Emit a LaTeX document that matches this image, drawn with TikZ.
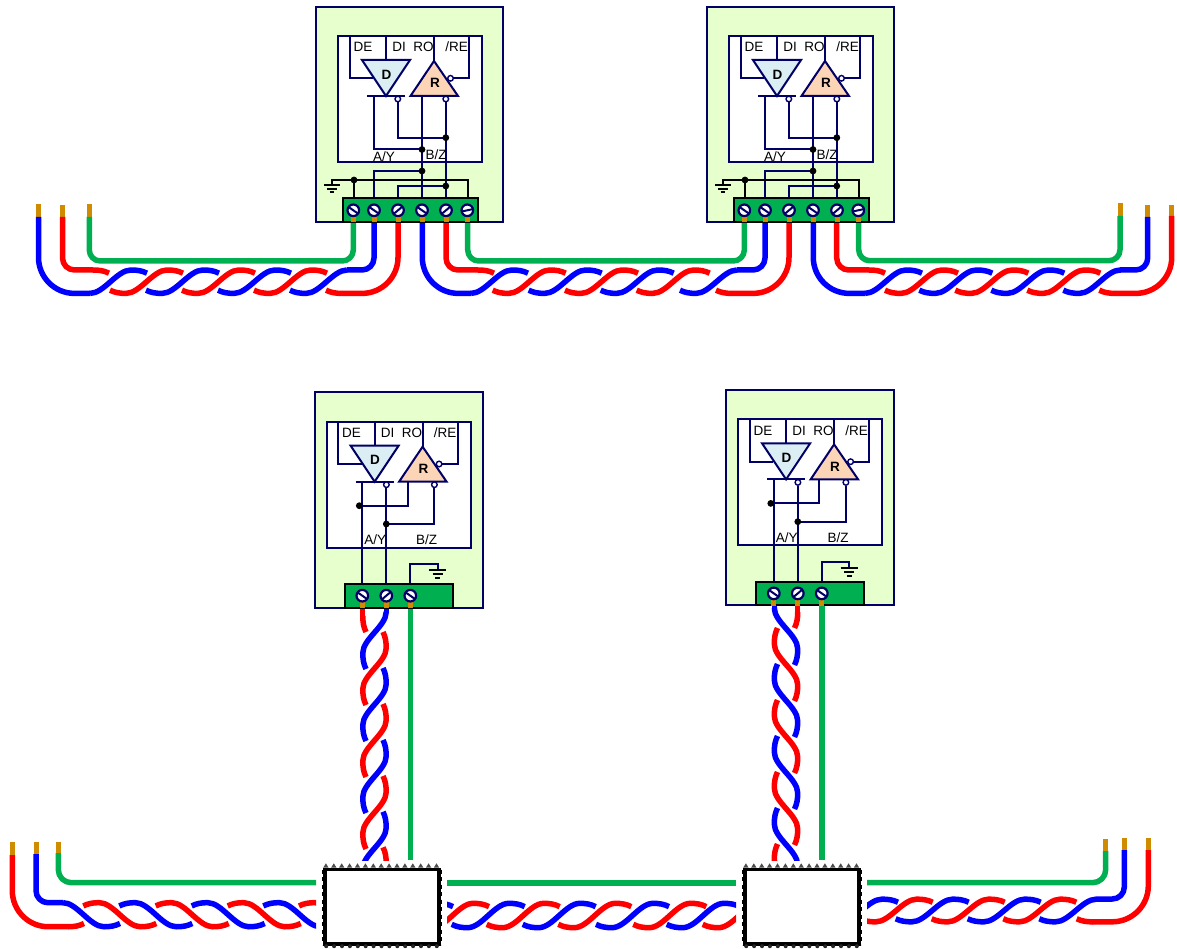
\documentclass[tikz,border=0pt]{standalone}
\usepackage{fontspec}
\setmainfont{Liberation Sans}
\definecolor{navyl}{HTML}{000066}
\definecolor{boardg}{HTML}{E6FFCC}
\definecolor{termg}{HTML}{00B050}
\definecolor{goldw}{HTML}{D08C00}
\definecolor{drvf}{HTML}{DAEEF3}
\definecolor{rcvf}{HTML}{FBD5B5}
\definecolor{wred}{HTML}{FF0000}
\definecolor{wblue}{HTML}{0000FF}
\tikzset{
  wire/.style={line width=5.5pt,line cap=butt,line join=round},
  roundw/.style={wire,rounded corners=#1},
  goldtip/.style={line width=5pt,draw=goldw},
  nav/.style={draw=navyl,line width=2pt},
  blk/.style={draw=black,line width=2pt},
  lbl/.style={inner sep=0pt,font=\fontsize{13.5}{14}\selectfont,text=black},
  lblb/.style={inner sep=0pt,font=\fontsize{13.5}{14}\selectfont\bfseries,text=black},
  jdot/.style={fill=black},
  stampbox/.style={draw=black,fill=white,line width=3.6pt,inner sep=0pt,outer sep=0pt,minimum width=114pt,minimum height=74.5pt},
  rowup/.style={shift={(0,#1)},x={(1pt,0pt)},y={(0pt,-1pt)}},
  rowdn/.style={shift={(0,#1)},x={(1pt,0pt)},y={(0pt,1.03pt)}},
  colr/.style={shift={(#1,0)},x={(0pt,-1pt)},y={(1pt,0pt)}},
  coll/.style={shift={(#1,0)},x={(0pt,-1pt)},y={(-1pt,0pt)}},
}
% twist pieces: full, tail only, head only, no head, no tail
\newcommand{\twF}[2]{\draw[wire,#1,shift={(#2,0)}] (0,8.5) .. controls (5,11) and (10,11.7) .. (16,11.7) .. controls (30,11.7) and (43,-11.7) .. (57,-11.7) .. controls (63,-11.7) and (68,-11) .. (73,-8.5);}
\newcommand{\twT}[2]{\draw[wire,#1,shift={(#2,0)}] (57,-11.7) .. controls (63,-11.7) and (68,-11) .. (73,-8.5);}
\newcommand{\twH}[2]{\draw[wire,#1,shift={(#2,0)}] (0,8.5) .. controls (5,11) and (10,11.7) .. (16,11.7);}
\newcommand{\twN}[2]{\draw[wire,#1,shift={(#2,0)}] (16,11.7) .. controls (30,11.7) and (43,-11.7) .. (57,-11.7) .. controls (63,-11.7) and (68,-11) .. (73,-8.5);}
\newcommand{\twS}[2]{\draw[wire,#1,shift={(#2,0)}] (0,8.5) .. controls (5,11) and (10,11.7) .. (16,11.7) .. controls (30,11.7) and (43,-11.7) .. (57,-11.7);}
% screw: x, y, angle
\newcommand{\screw}[3]{%
  \fill[goldw] (#1-2.5,#2+6) rectangle (#1+2.5,#2+12.2);
  \draw[draw=navyl,line width=2.2pt,fill=white] (#1,#2) circle[radius=5.8pt];
  \draw[draw=navyl,line width=2pt,shift={(#1,#2)},rotate=#3] (-5,0) -- (5,0);
}
% transceiver, in the coordinates of the first top board
\newcommand{\logicbox}{%
  \draw[nav,fill=white] (338,36) rectangle (482,162);
  \draw[nav] (349.5,36) -- (349.5,78.3) -- (373,78.3);
  \draw[nav] (386,36) -- (386,60);
  \draw[nav] (434,36) -- (434,61);
  \draw[nav] (469.3,36) -- (469.3,78.3) -- (453,78.3);
  \draw[nav] (367,96) -- (405,96);
  \draw[nav,fill=drvf] (362,60) -- (410,60) -- (386,96) -- cycle;
  \draw[nav,fill=rcvf] (434,61) -- (458,96) -- (410.5,96) -- cycle;
  \draw[draw=navyl,line width=1.4pt,fill=white] (450.5,78.3) circle[radius=2.8pt];
  \draw[draw=navyl,line width=1.4pt,fill=white] (397.8,99) circle[radius=2.8pt];
  \draw[draw=navyl,line width=1.4pt,fill=white] (445.8,99) circle[radius=2.8pt];
  \node[lbl] (-de) at (363,47) {DE};
  \node[lbl] (-di) at (399,47) {DI};
  \node[lbl] (-ro) at (423.5,47) {RO};
  \node[lbl] (-re) at (456.5,47) {/RE};
  \node[lblb] (-d) at (386.5,74.5) {D};
  \node[lblb] (-r) at (435,83) {R};
}
\tikzset{
 topboard/.pic={
  \draw[nav,fill=boardg] (316,7) rectangle (503,222);
  \logicbox
  \node[lbl] (-ay) at (384,157) {A/Y};
  \node[lbl] (-bz) at (436,155) {B/Z};
  \draw[nav] (373.5,96) -- (373.5,149.5) -- (422,149.5);
  \draw[nav] (422,96) -- (422,198.5);
  \draw[nav] (397.8,102) -- (397.8,137.7) -- (445.8,137.7);
  \draw[nav] (445.8,102) -- (445.8,198.5);
  \draw[nav] (373.8,198.5) -- (373.8,171) -- (422,171);
  \draw[nav] (398,198.5) -- (398,186) -- (445.8,186);
  \draw[blk] (331.7,185) -- (331.7,180) -- (468,180) -- (468,198.5);
  \draw[blk] (354,180) -- (354,198.5);
  \draw[blk] (324,185) -- (340,185);
  \draw[blk] (327,189) -- (337,189);
  \draw[blk] (329.5,192.5) -- (334,192.5);
  \foreach \px/\py in {422/149.5,445.8/137.7,422/171,445.8/186,354/180}
    \fill[jdot] (\px,\py) circle[radius=3.4pt];
  \draw[blk,fill=termg] (343,198.5) rectangle (477.5,221.7);
  \screw{353.3}{210.3}{-35}
  \screw{374}{210.3}{-35}
  \screw{398}{210.3}{40}
  \screw{422}{210.3}{-35}
  \screw{446}{210.3}{40}
  \screw{467.3}{210.3}{12}
 },
 lowboard/.pic={
  \draw[nav,fill=boardg] (314.5,392.3) rectangle (482.5,607.7);
  \begin{scope}[shift={(-11.4,385.7)}]
    \logicbox
  \end{scope}
  \node[lbl] (-ay) at (375.3,540) {A/Y};
  \node[lbl] (-bz) at (426.7,540) {B/Z};
  \draw[nav] (362.3,482) -- (362.3,584);
  \draw[nav] (386.3,488) -- (386.3,584);
  \draw[nav] (407.7,482) -- (407.7,505.7) -- (359.3,505.7);
  \draw[nav] (434.4,488) -- (434.4,524) -- (386.3,524);
  \draw[nav] (410.3,584) -- (410.3,564) -- (437.7,564) -- (437.7,570);
  \draw[blk] (429,570) -- (446,570);
  \draw[blk] (432.7,574) -- (442.7,574);
  \draw[blk] (435,578) -- (440,578);
  \fill[jdot] (359.3,505.7) circle[radius=3.4pt];
  \fill[jdot] (386.3,524) circle[radius=3.4pt];
  \draw[blk,fill=termg] (344.7,584) rectangle (452.7,607.7);
  \screw{362.3}{595.7}{-35}
  \screw{386.3}{595.7}{40}
  \screw{410.3}{595.7}{-35}
 }
}
\newcommand{\stampnode}[3]{% name, left x, top y
  \node[stampbox] (#1) at (#2+59.5,#3+40.1) {};
  \foreach \i in {0,...,14} {
    \fill[black!70] (#2+0.5+\i*7.9,#3+1) -- ++(2.7,-4.4) -- ++(2.7,4.4) -- cycle;
    \fill[black!85] (#2+3.5+\i*7.9,#3+79.5) circle[radius=2pt];
  }
  \draw[black,line width=3pt,dash pattern=on 4pt off 3.5pt] (#2+1,#3+3) -- (#2+1,#3+78);
  \draw[black,line width=3pt,dash pattern=on 4pt off 3.5pt] (#2+118,#3+3) -- (#2+118,#3+78);
}
\begin{document}
\begin{tikzpicture}[x=1pt,y=-1pt]
\useasboundingbox (0,0) rectangle (1177,949);
\fill[white] (0,0) rectangle (1177,949);

% ---------- top row wires
\draw[goldtip] (38.5,204) -- (38.5,217);
\draw[goldtip] (62.5,205) -- (62.5,217);
\draw[goldtip] (89.3,204) -- (89.3,218);
\draw[roundw=36pt,wblue] (38.5,217) |- (90,293.4);
\draw[roundw=12pt,wred] (62.5,217) |- (93,270);
\draw[roundw=11pt,termg] (89.3,217) -- (89.3,261) -- (353.3,261) -- (353.3,222);
\draw[roundw=12pt,wblue] (374,222) |- (347,270);
\draw[roundw=36pt,wred] (398,222) |- (342,293.4);
\begin{scope}[rowup=281.7]
  \twT{wred}{36} \twN{wblue}{74}
  \twF{wred}{110} \twF{wblue}{146} \twF{wred}{182} \twF{wblue}{218} \twF{wred}{254}
  \twS{wblue}{290} \twH{wred}{326}
\end{scope}

\draw[roundw=36pt,wblue] (422.3,222) |- (471,293.4);
\draw[roundw=12pt,wred] (446,222) |- (478,270);
\draw[roundw=11pt,termg] (467.7,222) -- (467.7,261) -- (744.3,261) -- (744.3,222);
\draw[roundw=12pt,wblue] (765,222) |- (737,270);
\draw[roundw=36pt,wred] (789,222) |- (732,293.4);
\begin{scope}[rowup=281.7]
  \twT{wred}{421} \twN{wblue}{455}
  \twF{wred}{492.7} \twF{wblue}{528.7} \twF{wred}{565} \twF{wblue}{600.7} \twF{wred}{636.7}
  \twS{wblue}{680} \twH{wred}{716}
\end{scope}

\draw[goldtip] (1120,203) -- (1120,217);
\draw[goldtip] (1147.7,205) -- (1147.7,218);
\draw[goldtip] (1171.7,205) -- (1171.7,217);
\draw[roundw=36pt,wblue] (813.3,222) |- (865,293.4);
\draw[roundw=12pt,wred] (836.7,222) |- (869,270);
\draw[roundw=11pt,termg] (858.7,222) -- (858.7,260.7) -- (1120,260.7) -- (1120,216);
\draw[roundw=12pt,wblue] (1147.7,217) |- (1120,270);
\draw[roundw=36pt,wred] (1171.7,216) |- (1115,293.4);
\begin{scope}[rowup=281.7]
  \twT{wred}{812} \twN{wblue}{849}
  \twF{wred}{885} \twF{wblue}{919.3} \twF{wred}{955.3} \twF{wblue}{991.3} \twF{wred}{1027.3}
  \twS{wblue}{1063.3} \twH{wred}{1099.3}
\end{scope}

% ---------- vertical wires
\draw[wire,wred] (362.7,607) -- (362.7,616.5);
\draw[wire,wblue] (386.3,607) -- (386.3,612.5);
\draw[wire,termg] (410.3,607) -- (410.3,860);
\begin{scope}
  \clip (340,600) rectangle (400,860);
  \begin{scope}[colr=374.5]
    \twT{wred}{559} \twN{wblue}{596}
    \twF{wred}{632} \twF{wblue}{668} \twF{wred}{704} \twF{wblue}{740} \twF{wred}{776}
    \twF{wblue}{811.7} \twF{wred}{847.3}
  \end{scope}
\end{scope}

\draw[wire,wred] (797.7,604.7) -- (797.7,612.5);
\draw[wire,wblue] (774.3,604.7) -- (774.3,608.5);
\draw[wire,termg] (822,604.7) -- (822,860);
\begin{scope}
  \clip (760,600) rectangle (810,860);
  \begin{scope}[coll=786]
    \twT{wred}{555} \twN{wblue}{592}
    \twF{wred}{628} \twF{wblue}{664} \twF{wred}{700} \twF{wblue}{736} \twF{wred}{772}
    \twF{wblue}{808} \twF{wred}{844}
  \end{scope}
\end{scope}

% ---------- bottom row wires
\draw[goldtip] (12.3,842) -- (12.3,856);
\draw[goldtip] (36,841.7) -- (36,855);
\draw[goldtip] (58.3,841.7) -- (58.3,854);
\draw[roundw=36pt,wred] (12.3,855) |- (68,926.7);
\draw[roundw=12pt,wblue] (36,854) |- (63,902.7);
\draw[roundw=13pt,termg] (58.3,853) |- (316,882.7);
\begin{scope}
  \clip (0,890) rectangle (316,949);
  \begin{scope}[rowdn=914.7]
    \twT{wred}{11} \twN{wblue}{47}
    \twF{wred}{83.3} \twF{wblue}{119.3} \twF{wred}{155.7} \twF{wblue}{191.7} \twF{wred}{227.7}
    \twF{wblue}{263.3} \twF{wred}{299}
  \end{scope}
\end{scope}

\draw[wire,termg] (447,883) -- (736,883);
\begin{scope}
  \clip (447,890) rectangle (736,949);
  \begin{scope}[rowup=915.5,y={(0pt,-1.04pt)}]
    \twF{wblue}{380} \twF{wred}{416} \twF{wblue}{451.7} \twF{wred}{486.7} \twF{wblue}{522.7}
    \twF{wred}{558.3} \twF{wblue}{596} \twF{wred}{633.3} \twF{wblue}{666.7} \twF{wred}{702.7}
  \end{scope}
\end{scope}

\draw[goldtip] (1105.7,839) -- (1105.7,852);
\draw[goldtip] (1124.3,838) -- (1124.3,851);
\draw[goldtip] (1148.3,838) -- (1148.3,851);
\draw[roundw=13pt,termg] (1105.7,851) |- (867,882.7);
\draw[roundw=12pt,wblue] (1124.3,850) |- (1096,899);
\draw[roundw=36pt,wred] (1148.3,850) |- (1092,921.8);
\begin{scope}
  \clip (867,888) rectangle (1177,949);
  \begin{scope}[rowup=910.5,y={(0pt,-0.97pt)}]
    \twF{wblue}{825} \twF{wred}{859.7} \twF{wblue}{895.7} \twF{wred}{931.7} \twF{wblue}{967.7}
    \twF{wred}{1003.3} \twS{wblue}{1039.3} \twH{wred}{1076.7}
  \end{scope}
\end{scope}

% ---------- boards
\pic (a) at (0,0) {topboard};
\pic (b) at (391,0) {topboard};
\pic (c) at (0,0) {lowboard};
\pic (e) at (411.5,-2.3) {lowboard};

% ---------- junction boxes
\stampnode{s1}{322.7}{866.7}
\stampnode{s2}{742.7}{866.7}
\end{tikzpicture}
\end{document}
